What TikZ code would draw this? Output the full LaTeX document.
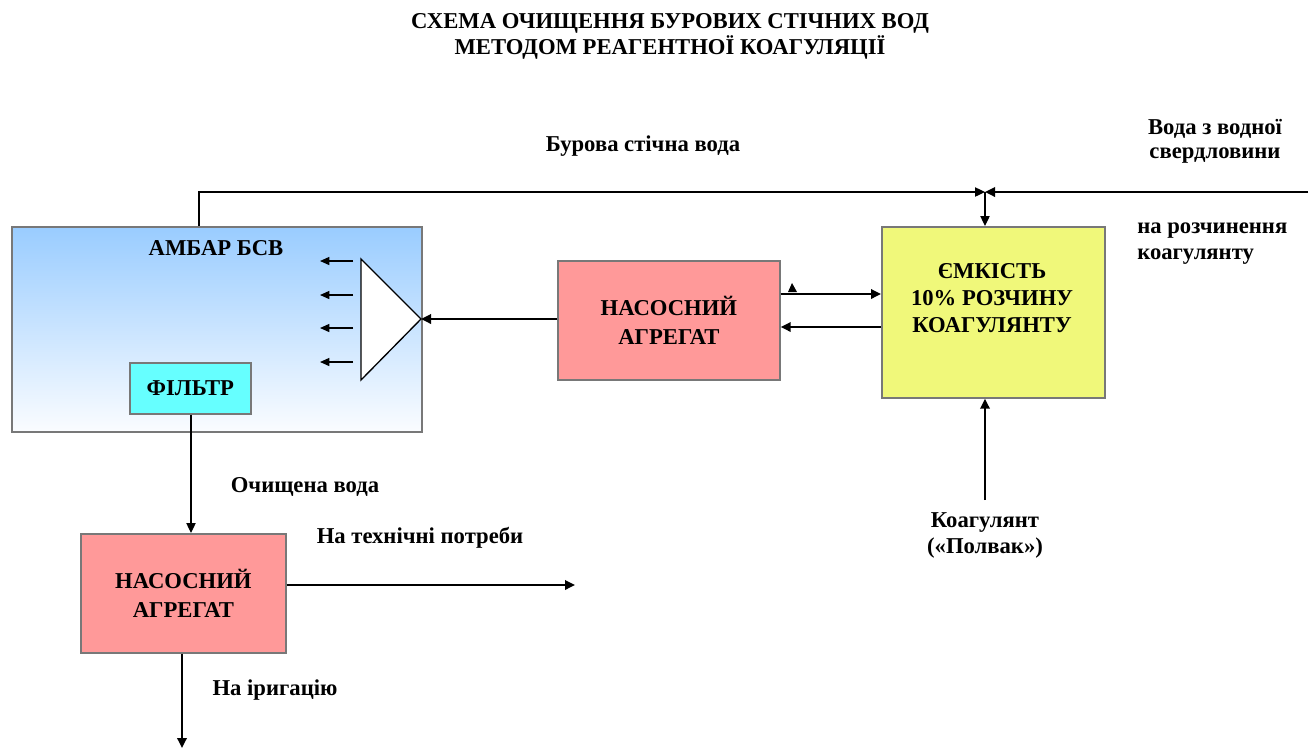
\documentclass[tikz,border=0pt]{standalone}
\usepackage{fontspec}
\setmainfont{Liberation Serif}
\usetikzlibrary{arrows.meta}
\definecolor{boxgray}{RGB}{120,120,120}
\definecolor{ambtop}{RGB}{153,204,255}
\definecolor{ambbot}{RGB}{250,252,255}
\definecolor{filt}{RGB}{102,255,255}
\definecolor{pump}{RGB}{255,153,153}
\definecolor{tank}{RGB}{240,248,122}
\tikzset{
  box/.style={draw=boxgray, line width=1.3pt, inner sep=0pt, font=\bfseries\fontsize{17}{21.5}\selectfont, align=center},
  lbl/.style={font=\bfseries\fontsize{17}{18}\selectfont, align=center, inner sep=0pt},
  flow/.style={line width=1.7pt, -{Triangle[length=7.5pt,width=7pt]}},
  thin/.style={line width=0.9pt, -{Triangle[length=7.5pt,width=7pt]}},
}
\begin{document}
\begin{tikzpicture}[x=0.75pt,y=-0.75pt]
\useasboundingbox (0,0) rectangle (1314,751);
% title
\node[lbl, font=\bfseries\fontsize{17}{19.5}\selectfont] (title) at (670,36) {СХЕМА ОЧИЩЕННЯ БУРОВИХ СТІЧНИХ ВОД\\МЕТОДОМ РЕАГЕНТНОЇ КОАГУЛЯЦІЇ};
% ambar
\shade[top color=ambtop, bottom color=ambbot] (11,226) rectangle (421,431);
\node[box, fill=none, minimum width=410*0.75pt, minimum height=205*0.75pt, anchor=north west] (amb) at (11,226) {};
\node[lbl] (ambt) at (216,248) {АМБАР БСВ};
\node[box, fill=filt, minimum width=121*0.75pt, minimum height=51*0.75pt, anchor=north west] (filt) at (129,362) {ФІЛЬТР};
% distributor triangle
\coordinate (t1) at (361,259);
\coordinate (t2) at (361,380);
\coordinate (tap) at (421,319);
\draw[line width=1pt, fill=white] (t1) -- (tap) -- (t2) -- cycle;
\foreach \yy/\nm in {261/s1,295/s2,328/s3,362/s4}{
  \coordinate (\nm a) at (353,\yy);
  \coordinate (\nm b) at (320,\yy);
  \draw[line width=1pt, -{Triangle[length=7pt,width=6pt]}] (\nm a) -- (\nm b);
}
% pump 1
\node[box, fill=pump, minimum width=222*0.75pt, minimum height=119*0.75pt, anchor=north west] (p1) at (557,260) {НАСОСНИЙ\\АГРЕГАТ};
% tank
\node[box, fill=tank, minimum width=223*0.75pt, minimum height=171*0.75pt, anchor=north west] (tank) at (881,226) {};
\node[lbl, font=\bfseries\fontsize{17}{20}\selectfont] (tankt) at (992,298) {ЄМКІСТЬ\\10\% РОЗЧИНУ\\КОАГУЛЯНТУ};
% pump 2
\node[box, fill=pump, minimum width=205*0.75pt, minimum height=119*0.75pt, anchor=north west] (p2) at (80,533) {НАСОСНИЙ\\АГРЕГАТ};
% connectors
\coordinate (J) at (985,192);
\coordinate (ambout) at (199,226);
\coordinate (well) at (1308,192);
\draw[thin] (ambout) |- (J);
\draw[flow] (well) -- (J);
\draw[thin] (J) -- (tank.north -| J);
\draw[flow] (p1.west |- tap) -- (tap);
\draw[flow] (p1.east |- 0,294) -- (tank.west |- 0,294);
\draw[flow] (tank.west |- 0,327) -- (p1.east |- 0,327);
\fill (788,292) -- (797,292) -- (792,283) -- cycle;
\coordinate (coag) at (985,500);
\draw[flow] (coag) -- (tank.south -| coag);
\draw[thin] (filt.south -| 191,0) -- (p2.north -| 191,0);
\coordinate (tech) at (575,585);
\draw[flow] (p2.east |- tech) -- (tech);
\coordinate (irr) at (182,748);
\draw[flow] (p2.south -| irr) -- (irr);
% labels
\node[lbl] (lbsv) at (643,146) {Бурова стічна вода};
\node[lbl] (lwell) at (1215,141) {Вода з водної\\свердловини};
\node[lbl, align=left, anchor=west, font=\bfseries\fontsize{17}{19.5}\selectfont] (lsol) at (1137,244) {на розчинення\\коагулянту};
\node[lbl, font=\bfseries\fontsize{17}{19.5}\selectfont] (lcoag) at (985,535) {Коагулянт\\(«Полвак»)};
\node[lbl] (lclean) at (305,487) {Очищена вода};
\node[lbl] (ltech) at (420,538) {На технічні потреби};
\node[lbl] (lirr) at (275,690) {На іригацію};
\end{tikzpicture}
\end{document}
